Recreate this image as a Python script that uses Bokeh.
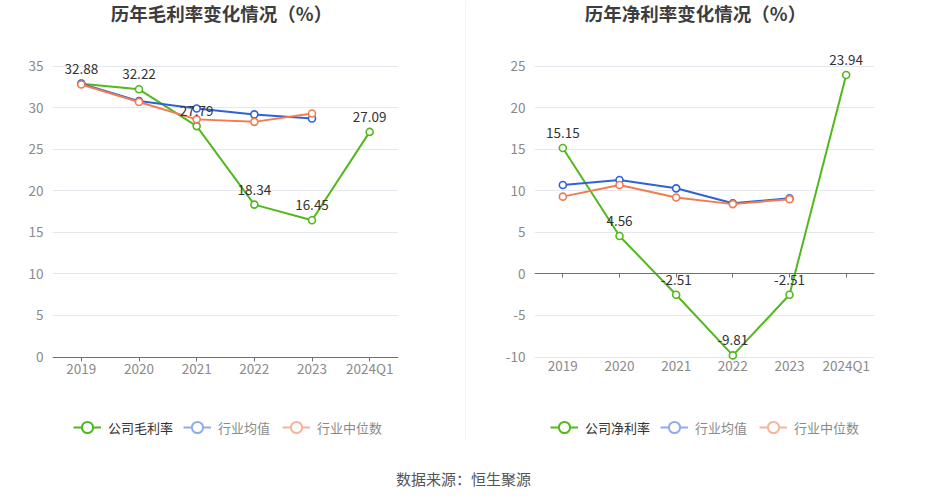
from bokeh.plotting import figure
from bokeh.models import (ColumnDataSource, FactorRange, Range1d, Label, Legend, LegendItem,
                          CategoricalAxis, FixedTicker, CustomJSTickFormatter)
from bokeh.layouts import row, column
from bokeh.embed import file_html
from bokeh.resources import INLINE
from bokeh.core.properties import value

# ---------------- data ----------------
years = ["2019", "2020", "2021", "2022", "2023", "2024Q1"]
ind_years = ["2019", "2020", "2021", "2022", "2023"]

gross_company = [32.88, 32.22, 27.79, 18.34, 16.45, 27.09]
gross_ind_avg = [32.9, 30.8, 29.9, 29.2, 28.7]
gross_ind_med = [32.8, 30.7, 28.6, 28.3, 29.3]

net_company = [15.15, 4.56, -2.51, -9.81, -2.51, 23.94]
net_ind_avg = [10.7, 11.3, 10.3, 8.5, 9.1]
net_ind_med = [9.3, 10.7, 9.2, 8.4, 9.0]

gross_ticks = [0, 5, 10, 15, 20, 25, 30, 35]
net_ticks = [-10, -5, 0, 5, 10, 15, 20, 25]

titles = ["历年毛利率变化情况（%）", "历年净利率变化情况（%）"]
company_names = ["公司毛利率", "公司净利率"]
ind_names = ["行业均值", "行业中位数"]
source_text = "数据来源：恒生聚源"

# ---------------- style / layout ----------------
FONT = "Noto Sans CJK SC"
GREEN = "#52b81e"
BLUE = "#2f62d8"
ORANGE = "#f27b52"
BLUE_L = "#8eaaf0"
ORANGE_L = "#f7b49c"
GRID = "#e4e7ee"
AXIS = "#6e7079"
LABEL = "#8a8a8a"

FIG_H = 450          # canvas height of each chart (frame fills it vertically)
DATA_TOP = 65.7      # pixel row of the top tick
DATA_BOT = 356.5     # pixel row of the bottom tick

plain_fmt = CustomJSTickFormatter(code="return tick.toString();")


def make_chart(title, comp_name, comp, avg, med, ticks, bl, fw, br,
               title_x, leg1_x, leg2_x, zero_axis):
    lo, hi = min(ticks), max(ticks)
    ppu = (DATA_BOT - DATA_TOP) / (hi - lo)
    y_top = hi + DATA_TOP / ppu
    y_bot = lo - (FIG_H - DATA_BOT) / ppu

    p = figure(x_range=FactorRange(*years, range_padding=0),
               y_range=Range1d(y_bot, y_top),
               frame_width=fw, frame_height=FIG_H,
               min_border_left=bl, min_border_right=br,
               min_border_top=0, min_border_bottom=0,
               x_axis_location=None,
               output_backend="svg", toolbar_location=None,
               background_fill_color="white", border_fill_color="white")
    p.outline_line_color = None
    p.xgrid.grid_line_color = None
    p.ygrid.grid_line_color = GRID
    p.ygrid.grid_line_width = 1
    p.ygrid.ticker = FixedTicker(ticks=ticks)

    yax = p.yaxis[0]
    yax.ticker = FixedTicker(ticks=ticks)
    yax.formatter = plain_fmt
    yax.axis_line_color = None
    yax.major_tick_line_color = None
    yax.major_tick_out = 0
    yax.major_tick_in = 0
    yax.minor_tick_line_color = None
    yax.minor_tick_out = 0
    yax.major_label_text_color = LABEL
    yax.major_label_text_font = FONT
    yax.major_label_text_font_size = "13.5px"
    yax.major_label_standoff = 9

    # category labels at bottom of the data area
    lab_ax = CategoricalAxis(fixed_location=lo)
    lab_ax.major_label_text_color = LABEL
    lab_ax.major_label_text_font = FONT
    lab_ax.major_label_text_font_size = "13.5px"
    if zero_axis:
        lab_ax.axis_line_color = None
        lab_ax.major_tick_line_color = None
        lab_ax.major_tick_out = 0
        lab_ax.major_tick_in = 0
        lab_ax.major_label_standoff = -2
        zax = CategoricalAxis(fixed_location=0)
        zax.axis_line_color = AXIS
        zax.major_tick_line_color = AXIS
        zax.major_tick_in = 0
        zax.major_tick_out = 4
        zax.major_label_text_alpha = 0
        zax.major_label_text_font_size = "1px"
        p.add_layout(zax, "below")
    else:
        lab_ax.axis_line_color = AXIS
        lab_ax.major_tick_line_color = AXIS
        lab_ax.major_tick_in = 0
        lab_ax.major_tick_out = 4
        lab_ax.major_label_standoff = -3
    p.add_layout(lab_ax, "below")

    src_c = ColumnDataSource(dict(x=years, y=comp, t=[f"{v:.2f}" for v in comp]))
    src_a = ColumnDataSource(dict(x=ind_years, y=avg))
    src_m = ColumnDataSource(dict(x=ind_years, y=med))

    p.line("x", "y", source=src_c, line_color=GREEN, line_width=2)
    p.scatter("x", "y", source=src_c, size=7, marker="circle",
              fill_color="white", line_color=GREEN, line_width=1.6)
    p.line("x", "y", source=src_a, line_color=BLUE, line_width=2)
    p.scatter("x", "y", source=src_a, size=7, marker="circle",
              fill_color="white", line_color=BLUE, line_width=1.6)
    p.line("x", "y", source=src_m, line_color=ORANGE, line_width=2)
    p.scatter("x", "y", source=src_m, size=7, marker="circle",
              fill_color="white", line_color=ORANGE, line_width=1.6)

    p.text("x", "y", text="t", source=src_c, text_align="center",
           text_baseline="bottom", y_offset=-10, text_color="#333333",
           text_font=value(FONT), text_font_size="13.5px")

    # title (frame fills the canvas vertically)
    p.add_layout(Label(x=title_x, y=FIG_H - 12, x_units="screen", y_units="screen",
                       text=title, text_align="center", text_baseline="middle",
                       text_font=FONT, text_font_size="18.5px",
                       text_font_style="bold", text_color="#3d3d3d"))

    # legend-only renderers (a single NaN point, never drawn in the plot)
    def dummy(color):
        src = ColumnDataSource(dict(x=[years[0]], y=[float("nan")]))
        l = p.line("x", "y", source=src, line_color=color, line_width=2)
        s = p.scatter("x", "y", source=src, marker="circle",
                      fill_color="white", line_color=color, line_width=2)
        return [l, s]

    def mk_legend(items, color, x):
        lg = Legend(items=items, location=(x, FIG_H - 442), orientation="horizontal",
                    glyph_width=28, glyph_height=30, label_standoff=7,
                    spacing=12, padding=0, margin=0,
                    border_line_color=None, background_fill_alpha=0,
                    label_text_font=FONT, label_text_font_size="13px",
                    label_text_color=color, label_height=30)
        p.add_layout(lg, "center")

    mk_legend([LegendItem(label=comp_name, renderers=dummy(GREEN))], "#333333", leg1_x)
    mk_legend([LegendItem(label=ind_names[0], renderers=dummy(BLUE_L)),
               LegendItem(label=ind_names[1], renderers=dummy(ORANGE_L))], "#8a8a8a", leg2_x)
    return p


p1 = make_chart(titles[0], company_names[0], gross_company, gross_ind_avg, gross_ind_med,
                gross_ticks, bl=52, fw=346, br=67, title_x=169,
                leg1_x=21, leg2_x=131, zero_axis=False)
p2 = make_chart(titles[1], company_names[1], net_company, net_ind_avg, net_ind_med,
                net_ticks, bl=68, fw=340, br=44, title_x=161,
                leg1_x=16, leg2_x=126, zero_axis=True)

sep = figure(frame_width=1, frame_height=440, min_border=0, output_backend="svg",
             toolbar_location=None, x_axis_location=None, y_axis_location=None,
             background_fill_color="#ececec", border_fill_color="#ececec")
sep.outline_line_color = None
sep.grid.visible = False

p3 = figure(frame_width=918, frame_height=40, min_border=0, output_backend="svg",
            toolbar_location=None, x_axis_location=None, y_axis_location=None,
            x_range=Range1d(0, 918), y_range=Range1d(0, 40))
p3.outline_line_color = None
p3.grid.visible = False
p3.add_layout(Label(x=463, y=12, x_units="screen", y_units="screen", text=source_text,
                    text_align="center", text_baseline="middle", text_font=FONT,
                    text_font_size="15px", text_color="#555555"))

layout = column(row(p1, sep, p2, spacing=0), p3, spacing=0)
open("out.html", "w").write(file_html(layout, INLINE))
